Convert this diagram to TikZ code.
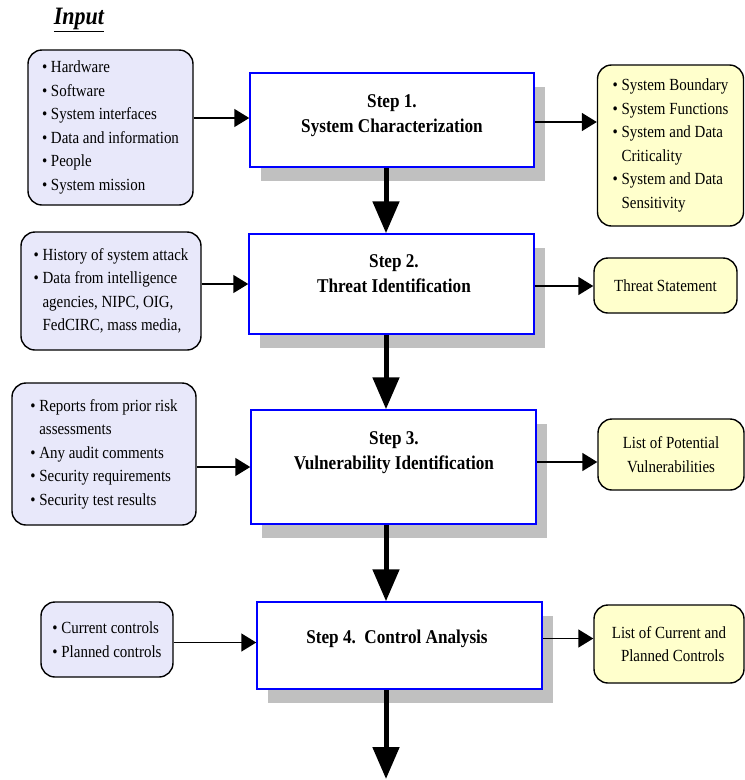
\documentclass[tikz,border=0pt]{standalone}
\usepackage{fontspec}
\setmainfont{Liberation Serif}[FakeStretch=0.88]
\usetikzlibrary{arrows.meta,shadows}
\definecolor{lav}{RGB}{232,232,250}
\definecolor{pale}{RGB}{255,255,204}
\definecolor{shade}{RGB}{192,192,192}
\newcommand{\bl}{\textbullet\ }
\newcommand{\hb}{\hphantom{\textbullet\ }}
\begin{document}
\begin{tikzpicture}[x=1pt,y=-1pt,
  inbox/.style={draw=black, line width=1.4pt, rounded corners=14pt, fill=lav,
    inner sep=0pt, align=left, font=\fontsize{17}{23.5}\selectfont},
  outbox/.style={draw=black, line width=1.4pt, rounded corners=14pt, fill=pale,
    inner sep=0pt, font=\fontsize{17}{23.5}\selectfont},
  stepbox/.style={draw=blue, line width=1.5pt, fill=white, inner sep=0pt,
    drop shadow={shadow xshift=11pt, shadow yshift=-14pt, fill=shade, opacity=1}},
  steptext/.style={font=\bfseries\fontsize{19.5}{25}\selectfont, align=center, inner sep=0pt},
  thinarrow/.style={line width=1.6pt, -{Triangle[length=15pt,width=18pt]}},
  bigarrow/.style={line width=5pt, -{Triangle[length=32pt,width=26pt]}}]
\useasboundingbox (0,0) rectangle (745,780);

% title
\node (title) at (79,20) {\fontsize{25}{28}\selectfont\bfseries\itshape\underline{Input}};

% step boxes
\node[stepbox, minimum width=284pt, minimum height=94pt] (s1) at (392,120) {};
\node[stepbox, minimum width=285pt, minimum height=100pt] (s2) at (391.5,284) {};
\node[stepbox, minimum width=285pt, minimum height=114pt] (s3) at (393.5,467) {};
\node[stepbox, minimum width=285pt, minimum height=87pt] (s4) at (399.5,645.5) {};

\node[steptext] (t1) at (392,116) {Step 1.\\System Characterization};
\node[steptext] (t2) at (394,274) {Step 2.\\Threat Identification};
\node[steptext] (t3) at (394,453) {Step 3.\\Vulnerability Identification};
\node[steptext] (t4) at (397,639) {Step 4.\ \ Control Analysis};

% input boxes
\node[inbox, minimum width=165pt, minimum height=155pt] (in1) at (110.5,127.5)
  {\bl Hardware\\\bl Software\\\bl System interfaces\\\bl Data and information\\\bl People\\\bl System mission};
\node[inbox, minimum width=180pt, minimum height=118pt] (in2) at (111,291)
  {\bl History of system attack\\\bl Data from intelligence\\\hb agencies, NIPC, OIG,\\\hb FedCIRC, mass media,};
\node[inbox, minimum width=184pt, minimum height=142pt] (in3) at (104,454)
  {\bl Reports from prior risk\\\hb assessments\\\bl Any audit comments\\\bl Security requirements\\\bl Security test results};
\node[inbox, minimum width=132pt, minimum height=75pt] (in4) at (107,639.5)
  {\bl Current controls\\\bl Planned controls};

% output boxes
\node[outbox, align=left, minimum width=146pt, minimum height=161pt] (out1) at (670.5,145.5)
  {\bl System Boundary\\\bl System Functions\\\bl System and Data\\\hb Criticality\\\bl System and Data\\\hb Sensitivity};
\node[outbox, align=center, minimum width=143pt, minimum height=55pt] (out2) at (665.5,285.5)
  {Threat Statement};
\node[outbox, align=center, minimum width=146pt, minimum height=71pt] (out3) at (671,454.5)
  {List of Potential\\Vulnerabilities};
\node[outbox, align=center, minimum width=150pt, minimum height=78pt] (out4) at (669,644)
  {List of Current and\\\ \ Planned Controls};

% side arrows
\draw[thinarrow] ([yshift=2pt]in1.east |- s1.west) -- ([yshift=2pt]s1.west);
\draw[thinarrow] ([yshift=-2pt]s1.east) -- ([yshift=-2pt]s1.east -| out1.west);
\draw[thinarrow] (in2.east |- s2.west) -- (s2.west);
\draw[thinarrow] ([yshift=-2pt]s2.east) -- ([yshift=-2pt]s2.east -| out2.west);
\draw[thinarrow] (in3.east |- s3.west) -- (s3.west);
\draw[thinarrow] ([yshift=5pt]s3.east) -- ([yshift=5pt]s3.east -| out3.west);
\draw[thinarrow] ([yshift=3pt]in4.east |- s4.west) -- ([yshift=3pt]s4.west);
\draw[thinarrow] ([yshift=7pt]s4.east) -- ([yshift=7pt]s4.east -| out4.west);

% down arrows
\coordinate (col) at (386,0);
\coordinate (end) at (386,779);
\draw[bigarrow] (s1.south -| col) -- (s2.north -| col);
\draw[bigarrow] (s2.south -| col) -- (s3.north -| col);
\draw[bigarrow] (s3.south -| col) -- (s4.north -| col);
\draw[bigarrow] (s4.south -| col) -- (end);
\end{tikzpicture}
\end{document}
